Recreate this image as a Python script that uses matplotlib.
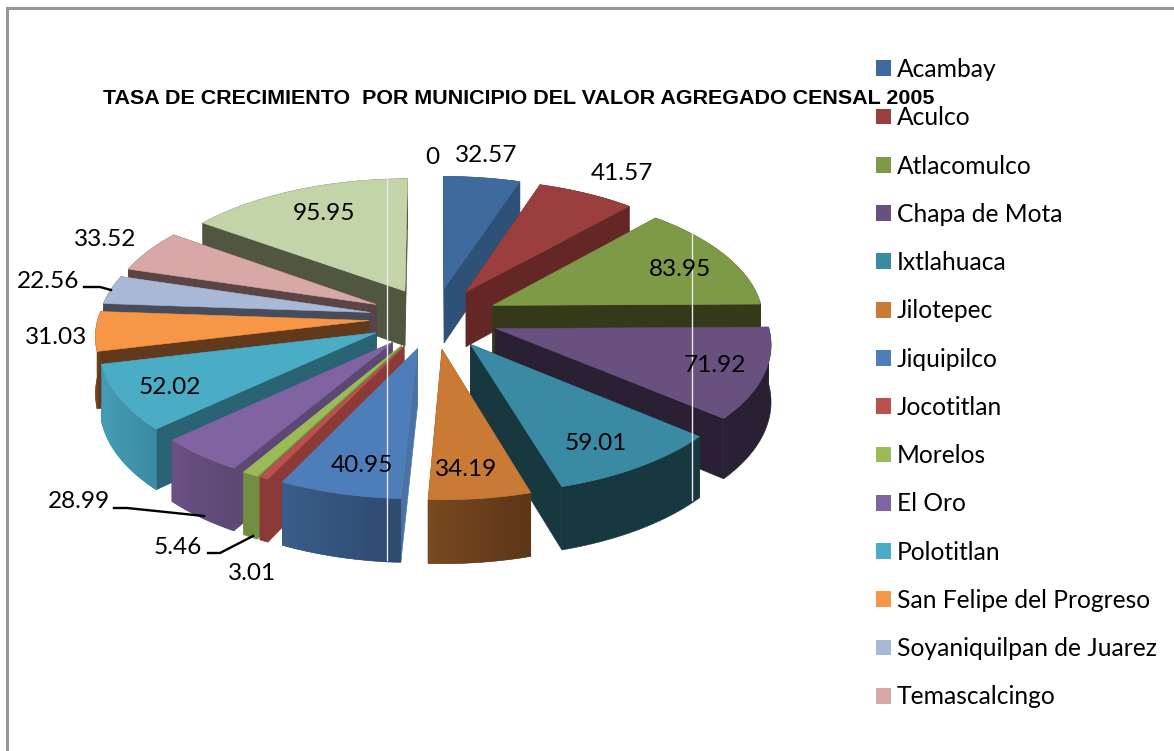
import numpy as np
import matplotlib
matplotlib.use("Agg")
import matplotlib.pyplot as plt
from matplotlib.patches import Polygon, Rectangle
from matplotlib.colors import to_rgb

title = "TASA DE CRECIMIENTO  POR MUNICIPIO DEL VALOR AGREGADO CENSAL 2005"
legend_names = ["Acambay", "Aculco", "Atlacomulco", "Chapa de Mota", "Ixtlahuaca", "Jilotepec",
                "Jiquipilco", "Jocotitlan", "Morelos", "El Oro", "Polotitlan",
                "San Felipe del Progreso", "Soyaniquilpan de Juarez", "Temascalcingo"]
values = [32.57, 41.57, 83.95, 71.92, 59.01, 34.19, 40.95, 3.01, 5.46, 28.99, 52.02,
          31.03, 22.56, 33.52, 95.95, 0]

top_colors = ["#3e6a9e", "#9a3f3d", "#7e9a47", "#68507f", "#3b8aa3", "#c97a35", "#4d7eb9",
              "#bc504d", "#9bbb59", "#8064a2", "#4bacc6", "#f79646", "#a9b8d6", "#d8a7a7",
              "#c4d4a9", "#ffffff"]
side_colors = ["#2e5178", "#642725", "#343a19", "#2a2034", "#183840", "#7a4a20", "#4a72a6",
               "#8c3a38", "#728d42", "#5d4873", "#2a6373", "#63391c", "#464c5a", "#5a4444",
               "#50563f", "#ffffff"]
rim_left = ["#2e5178", "#642725", "#343a19", "#2a2034", "#183840", "#7a4a20", "#3a5d8a",
            "#8c3a38", "#728d42", "#6a5285", "#459cb4", "#7a4a20", "#464c5a", "#5a4444",
            "#50563f", "#ffffff"]
rim_right = ["#2e5178", "#642725", "#343a19", "#2a2034", "#183840", "#5c3618", "#2e4a6f",
             "#8c3a38", "#728d42", "#5d4873", "#3a8ba2", "#63391c", "#464c5a", "#5a4444",
             "#50563f", "#ffffff"]

label_pos = [(486.5, 156), (622, 173), (680, 270), (715, 365), (596, 443), (466, 469), (362, 465),
             (252, 573), (178, 547), (79, 502), (170, 387), (56, 338), (48, 281), (105, 239),
             (324, 213), (432, 157)]
leaders = [[(84, 287), (100, 287), (111, 290)],
           [(114, 508), (127, 508), (204, 516)],
           [(208, 553), (220, 553), (253, 536)]]

CX, CY, RX, RY, K, EXPLODE, DEPTH = 434, 318, 271, 128.6, 0.1, 0.24, 56


def project(X, Y, z):
    s = 1 / (1 + K * Y)
    return np.column_stack([CX + RX * X * s, CY + s * (-RY * Y + DEPTH * z)])


fig = plt.figure(figsize=(11.74, 7.51), dpi=100)
ax = fig.add_axes([0, 0, 1, 1])
ax.set_xlim(0, 1174)
ax.set_ylim(751, 0)
ax.set_autoscale_on(False)
ax.axis("off")

vals = np.array(values)
edges = np.concatenate([[0], np.cumsum(vals)]) / vals.sum() * 2 * np.pi
mids = (edges[:-1] + edges[1:]) / 2
order = np.argsort(-np.cos(mids))
zorder = 2
for i in order:
    if vals[i] <= 0:
        continue
    ex, ey = EXPLODE * np.sin(mids[i]), EXPLODE * np.cos(mids[i])
    t = np.linspace(edges[i], edges[i + 1], max(8, int(vals[i])))
    X, Y = ex + np.sin(t), ey + np.cos(t)
    top_rim, bot_rim = project(X, Y, 0), project(X, Y, 1)
    apex_t = project(np.array([ex]), np.array([ey]), 0)
    apex_b = project(np.array([ex]), np.array([ey]), 1)
    for k in (0, -1):
        quad = np.vstack([apex_t, top_rim[k], bot_rim[k], apex_b])
        ax.add_patch(Polygon(quad, fc=side_colors[i], ec=side_colors[i], lw=.4, zorder=zorder))
    zorder += 1
    rim_poly = np.vstack([top_rim, bot_rim[::-1]])
    c0, c1 = np.array(to_rgb(rim_left[i])), np.array(to_rgb(rim_right[i]))
    base = Polygon(rim_poly, fc=(c0 + c1) / 2, ec=(c0 + c1) / 2, lw=.4, zorder=zorder)
    ax.add_patch(base)
    zorder += 1
    if rim_left[i] != rim_right[i]:
        grad = np.linspace(0, 1, 64)[None, :, None] * (c1 - c0) + c0
        x0, x1 = rim_poly[:, 0].min(), rim_poly[:, 0].max()
        y0, y1 = rim_poly[:, 1].min(), rim_poly[:, 1].max()
        im = ax.imshow(grad, extent=(x0, x1, y1, y0), aspect="auto", zorder=zorder,
                       interpolation="bilinear")
        clip = Polygon(rim_poly, transform=ax.transData, fc="none", ec="none")
        im.set_clip_path(clip)
        zorder += 1
    ax.add_patch(Polygon(np.vstack([apex_t, top_rim]), fc=top_colors[i], ec=top_colors[i],
                         lw=.4, zorder=zorder))
    zorder += 1
ax.set_xlim(0, 1174)
ax.set_ylim(751, 0)

# thin pale rendering seams of the reference
ax.plot([691.5, 691.5], [233, 500], color="#e8e8e8", lw=1, zorder=zorder)
ax.plot([387, 387], [179, 560], color="#e8e8e8", lw=1, zorder=zorder)
zorder += 1

for pts in leaders:
    p = np.array(pts)
    ax.plot(p[:, 0], p[:, 1], color="black", lw=1.7, zorder=zorder, solid_joinstyle="round")

TXT = "Lato"
for v, (x, y) in zip(values, label_pos):
    ax.text(x, y, f"{v:g}", ha="center", va="center", fontsize=17.6, family=TXT, color="black",
            zorder=zorder + 1)

ax.text(518.5, 98.5, title, ha="center", va="center", fontsize=15.45, fontweight="bold",
        family="Liberation Sans", color="black", zorder=zorder + 2)

# frame
ax.plot([6.5, 6.5, 1174], [751, 7.5, 7.5], color="#969696", lw=2.2, zorder=1,
        solid_joinstyle="miter")

fs = 17.7
px = fs * 100 / 72
handles = [Rectangle((0, 0), 1, 1, fc=c, ec="none") for c in top_colors[:len(legend_names)]]
leg = ax.legend(handles, legend_names, loc="upper left", bbox_to_anchor=(876 / 1174, 1 - 58 / 751),
                frameon=False, prop={"family": TXT, "size": fs}, borderpad=0, borderaxespad=0,
                handlelength=15 / px, handleheight=15 / px, handletextpad=6 / px,
                labelspacing=25.26 / px)
leg.set_zorder(zorder)

fig.savefig("out.png", dpi=100, facecolor="white")
